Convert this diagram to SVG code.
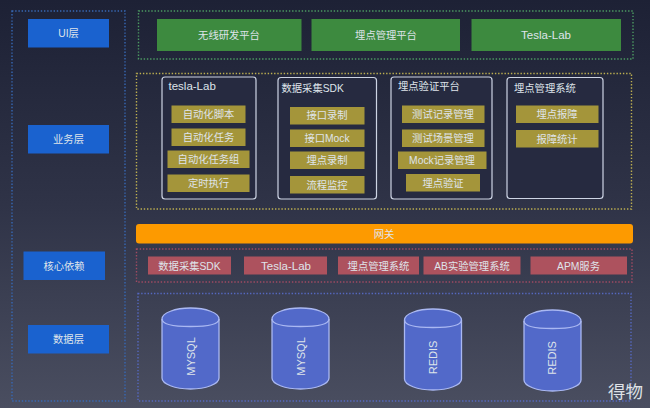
<svg xmlns="http://www.w3.org/2000/svg" width="650" height="408" viewBox="0 0 650 408">
<defs>
<linearGradient id="bg" x1="0" y1="0" x2="0" y2="1"><stop offset="0" stop-color="#1d2135"/><stop offset="0.5" stop-color="#2f3347"/><stop offset="1" stop-color="#4a4e60"/></linearGradient>
<g id="cyl"><path class="cy" d="M0 11V70C0 76 13 81 28.500 81S57 76 57 70V11C57 5 44 0 28.500 0S0 5 0 11Z"/><path class="cyt" d="M0 11C0 17 13 18.500 28.500 18.500S57 17 57 11"/></g>
</defs>
<style>
text{font-family:"Liberation Sans","Noto Sans CJK SC",sans-serif;fill:#dfe4ea;font-size:10.300px;text-anchor:middle;dominant-baseline:central}
.f{fill:none;stroke-width:1.400;stroke-dasharray:1.400 1.800}
.b{fill:#1a62cf}.g{fill:#3d8a3f}.y{fill:#a4953a}.r{fill:#ad525e}
.card{fill:#262a40;stroke:#cdd4e4;stroke-width:1.200}
.t{text-anchor:start}
.l{font-size:11.500px}
.cy{fill:#5269c9;stroke:#aab8f2;stroke-width:1.300}.cyt{fill:none;stroke:#aab8f2;stroke-width:1.300}
.v{font-size:11px}
</style>
<rect width="650" height="408" fill="url(#bg)"/>
<g id="frames">
<rect class="f" x="12" y="11" width="113" height="390" stroke="#3768b4"/>
<rect class="f" x="138.500" y="11" width="494.500" height="48" stroke="#4c9a62"/>
<rect class="f" x="136.500" y="73.500" width="495" height="135.500" stroke="#bcae50"/>
<rect class="f" x="136.500" y="249" width="495.500" height="33" stroke="#a04a62"/>
<rect class="f" x="138" y="293.500" width="493" height="107.500" stroke="#5568c0"/>
</g>
<g id="layer-ui"><rect class="b" x="28" y="19" width="81" height="28.500"/><text x="68.500" y="33">UI层</text></g>
<g id="layer-biz"><rect class="b" x="28" y="125" width="81" height="28.500"/><text x="68.500" y="139">业务层</text></g>
<g id="layer-core"><rect class="b" x="23.500" y="251.500" width="81.500" height="28.500"/><text x="64" y="266">核心依赖</text></g>
<g id="layer-data"><rect class="b" x="28" y="325" width="81" height="28.500"/><text x="68.500" y="339.500">数据层</text></g>
<g id="ui-1"><rect class="g" x="157" y="19" width="144.500" height="32"/><text x="229" y="35">无线研发平台</text></g>
<g id="ui-2"><rect class="g" x="311.500" y="19" width="148.500" height="32"/><text x="386" y="35">埋点管理平台</text></g>
<g id="ui-3"><rect class="g" x="471.500" y="19" width="149.500" height="32"/><text class="l" x="546" y="35">Tesla-Lab</text></g>
<g id="card-tesla">
<rect class="card" x="162" y="77" width="94" height="122" rx="3"/><text class="t l" x="168.500" y="86">tesla-Lab</text>
<rect class="y" x="171.500" y="105.500" width="74" height="17.500"/><text x="208.500" y="114">自动化脚本</text>
<rect class="y" x="171.500" y="128.500" width="74" height="17.500"/><text x="208.500" y="137">自动化任务</text>
<rect class="y" x="167.500" y="150.500" width="82" height="17.500"/><text x="208.500" y="159.500">自动化任务组</text>
<rect class="y" x="167.500" y="174.500" width="82" height="17.500"/><text x="208.500" y="183.500">定时执行</text>
</g>
<g id="card-sdk">
<rect class="card" x="278" y="77.500" width="98.500" height="121.500" rx="3"/><text class="t" x="281.500" y="88.500">数据采集SDK</text>
<rect class="y" x="290" y="107" width="74.500" height="17.500"/><text x="327" y="115.500">接口录制</text>
<rect class="y" x="290" y="129.500" width="74.500" height="17.500"/><text x="327" y="138">接口Mock</text>
<rect class="y" x="290" y="151.500" width="74.500" height="17.500"/><text x="327" y="160.500">埋点录制</text>
<rect class="y" x="290" y="176" width="74.500" height="17.500"/><text x="327" y="185">流程监控</text>
</g>
<g id="card-verify">
<rect class="card" x="391" y="77" width="101" height="122" rx="3"/><text class="t" x="398" y="86">埋点验证平台</text>
<rect class="y" x="402" y="105.500" width="82.500" height="17.500"/><text x="443" y="114">测试记录管理</text>
<rect class="y" x="402" y="129.500" width="82.500" height="17.500"/><text x="443" y="138">测试场景管理</text>
<rect class="y" x="398" y="151.500" width="88.500" height="17.500"/><text x="442" y="160.500">Mock记录管理</text>
<rect class="y" x="406" y="174" width="74" height="17.500"/><text x="443" y="183">埋点验证</text>
</g>
<g id="card-manage">
<rect class="card" x="507" y="77.500" width="96" height="121" rx="3"/><text class="t" x="514" y="88.500">埋点管理系统</text>
<rect class="y" x="516" y="105.500" width="82.500" height="17.500"/><text x="557" y="114">埋点报障</text>
<rect class="y" x="516" y="130" width="82.500" height="17.500"/><text x="557" y="139">报障统计</text>
</g>
<g id="gateway"><rect x="136" y="224" width="497" height="19.500" rx="3" fill="#fd9a00"/><text x="384" y="234">网关</text></g>
<g id="dep-1"><rect class="r" x="148" y="256.500" width="83" height="18"/><text x="189.500" y="266">数据采集SDK</text></g>
<g id="dep-2"><rect class="r" x="244" y="256.500" width="83" height="18"/><text class="l" x="286" y="266">Tesla-Lab</text></g>
<g id="dep-3"><rect class="r" x="338" y="256.500" width="81" height="18"/><text x="378.500" y="266">埋点管理系统</text></g>
<g id="dep-4"><rect class="r" x="423.500" y="256.500" width="97" height="18"/><text x="472" y="266">AB实验管理系统</text></g>
<g id="dep-5"><rect class="r" x="530.500" y="256.500" width="96.500" height="18"/><text x="578.500" y="266">APM服务</text></g>
<g id="db-1"><use href="#cyl" x="162" y="308"/><text class="v" transform="translate(190.500 356.500) rotate(-90)">MYSQL</text></g>
<g id="db-2"><use href="#cyl" x="272" y="308"/><text class="v" transform="translate(300.500 356.500) rotate(-90)">MYSQL</text></g>
<g id="db-3"><use href="#cyl" x="404.500" y="309"/><text class="v" transform="translate(433 357.500) rotate(-90)">REDIS</text></g>
<g id="db-4"><use href="#cyl" x="524" y="310"/><text class="v" transform="translate(552 358) rotate(-90)">REDIS</text></g>
<text x="625.500" y="392" style="font-size:17.500px;fill:#dfe2e6">得物</text>
</svg>
